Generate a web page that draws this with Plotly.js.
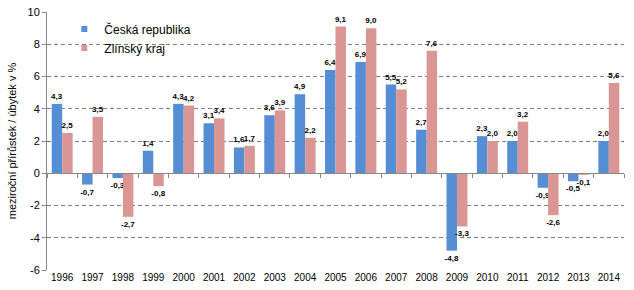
<!DOCTYPE html>
<html><head><meta charset="utf-8">
<script src="https://cdn.plot.ly/plotly-3.0.1.min.js"></script>
<style>html,body{margin:0;padding:0;background:#fff}#chart{width:634px;height:290px}</style>
</head><body><div id="chart"></div>
<script>
const years = ['1996','1997','1998','1999','2000','2001','2002','2003','2004','2005','2006','2007','2008','2009','2010','2011','2012','2013','2014'];
const czValues = [4.3,-0.7,-0.3,1.4,4.3,3.1,1.6,3.6,4.9,6.4,6.9,5.5,2.7,-4.8,2.3,2.0,-0.9,-0.5,2.0];
const zlinValues = [2.5,3.5,-2.7,-0.8,4.2,3.4,1.7,3.9,2.2,9.1,9.0,5.2,7.6,-3.3,2.0,3.2,-2.6,-0.1,5.6];
const seriesNames = ['Česká republika','Zlínský kraj'];
const yTicks = [-6,-4,-2,0,2,4,6,8,10];

const blue = '#558ED5', pink = '#D99694';
const fmt = v => v.toFixed(1).replace('.', ',');
const font = 'Liberation Sans, Arial, sans-serif';

function barTrace(vals, name, color) {
  return {
    type: 'bar', x: years, y: vals, name: name, showlegend: false,
    marker: {color: color},
    text: vals.map(fmt), textposition: 'outside', cliponaxis: false,
    constraintext: 'none',
    textfont: {family: font, size: 8, color: '#000', weight: 'bold'},
    hoverinfo: 'x+y'
  };
}
function legendTrace(name, color) {
  return {type: 'scatter', mode: 'markers', x: [null], y: [null], name: name,
    marker: {symbol: 'square', size: 6, color: color}};
}
const axisTrace = {type: 'scatter', mode: 'markers', x: years, y: years.map(() => null),
  xaxis: 'x2', showlegend: false, hoverinfo: 'skip'};

const data = [barTrace(czValues, seriesNames[0], blue), barTrace(zlinValues, seriesNames[1], pink),
  legendTrace(seriesNames[0], blue), legendTrace(seriesNames[1], pink), axisTrace];

const layout = {
  width: 634, height: 290,
  margin: {l: 47, r: 10, t: 12, b: 20},
  paper_bgcolor: '#fff', plot_bgcolor: '#fff',
  font: {family: font, size: 11, color: '#000'},
  barmode: 'group', bargap: 0.31, bargroupgap: 0,
  showlegend: true,
  legend: {x: 0.03, y: 0.99, xanchor: 'left', yanchor: 'top', bgcolor: 'rgba(0,0,0,0)',
    font: {family: font, size: 12, color: '#000'}, itemwidth: 30, tracegroupgap: 0},
  xaxis: {type: 'category', categoryorder: 'array', categoryarray: years,
    range: [-0.5, 18.5], showline: false, ticks: '', showgrid: false, zeroline: false,
    tickfont: {family: font, size: 10, color: '#000'}, automargin: false, fixedrange: true},
  xaxis2: {type: 'category', categoryorder: 'array', categoryarray: years, overlaying: 'x',
    anchor: 'free', position: 0.375, range: [-0.5, 18.5], showline: true, linecolor: '#888',
    linewidth: 1, ticks: 'outside', tickson: 'boundaries', ticklen: 4, tickcolor: '#888',
    showticklabels: false, showgrid: false, zeroline: false},
  yaxis: {range: [-6, 10], tickvals: yTicks, ticktext: yTicks.map(String),
    showline: true, linecolor: '#888', linewidth: 1, ticks: 'outside', ticklen: 4, tickcolor: '#888',
    showgrid: true, gridcolor: '#808080', griddash: '4px,3px', gridwidth: 1, zeroline: false,
    tickfont: {family: font, size: 11, color: '#000'},
    title: {text: 'meziroční přírůstek / úbytek v %', font: {family: font, size: 11, color: '#000'}, standoff: 8},
    automargin: false}
};
Plotly.newPlot('chart', data, layout, {displayModeBar: false, staticPlot: true});
</script></body></html>
